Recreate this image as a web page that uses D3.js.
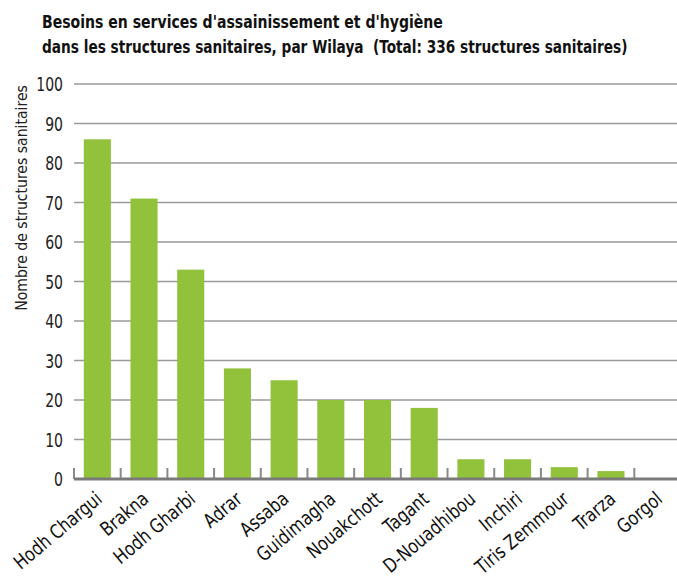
<!DOCTYPE html>
<html>
<head>
<meta charset="utf-8">
<script src="https://cdn.jsdelivr.net/npm/d3@7"></script>
<style>
  body { margin: 0; background: #fff; }
  svg { display: block; font-family: "Liberation Sans Narrow", "DejaVu Sans Condensed", "Roboto", sans-serif; }
</style>
</head>
<body>
<svg id="chart" width="677" height="583"></svg>
<script>
// Wilayas and number of health facilities needing water & sanitation services
const wilayas = ["Hodh Chargui", "Brakna", "Hodh Gharbi", "Adrar", "Assaba", "Guidimagha",
  "Nouakchott", "Tagant", "D-Nouadhibou", "Inchiri", "Tiris Zemmour", "Trarza", "Gorgol"];
const besoins = [86, 71, 53, 28, 25, 20, 20, 18, 5, 5, 3, 2, 0];
const yTicks = [0, 10, 20, 30, 40, 50, 60, 70, 80, 90, 100];
const titleLines = [
  "Besoins en services d'assainissement et d'hygiène",
  "dans les structures sanitaires, par Wilaya  (Total: 336 structures sanitaires)"
];
const titleWidths = [401, 586];
const yLabel = "Nombre de structures sanitaires";

const svg = d3.select("#chart");
const plot = { left: 74, right: 681, top: 84, bottom: 479 };

const x = d3.scaleBand().domain(wilayas).range([plot.left, plot.right]).paddingInner(0.42).paddingOuter(0.21);
const y = d3.scaleLinear().domain([0, 100]).range([plot.bottom, plot.top]);

// Squeeze a text horizontally so its natural width becomes `width`
function fitWidth(sel, width, base) {
  sel.each(function () {
    const w = this.getComputedTextLength();
    const sx = Math.min(1, width / w);
    d3.select(this).attr("transform", `${base} scale(${sx},1)`);
  });
}

// Title
svg.append("g").selectAll("text").data(titleLines).join("text")
  .attr("x", 0).attr("y", 0)
  .attr("font-size", 18).attr("font-weight", "bold").attr("fill", "#111")
  .style("white-space", "pre")
  .text(d => d)
  .each(function (d, i) {
    fitWidth(d3.select(this), titleWidths[i], `translate(42,${28 + i * 25})`);
  });

// Horizontal gridlines
svg.append("g").selectAll("line").data(yTicks.filter(t => t > 0)).join("line")
  .attr("x1", plot.left).attr("x2", 677)
  .attr("y1", d => y(d)).attr("y2", d => y(d))
  .attr("stroke", "#9a9a9a").attr("stroke-width", 1.5);

// Y tick labels
svg.append("g").selectAll("text").data(yTicks).join("text")
  .attr("transform", d => `translate(63,${y(d) + 7}) scale(0.8,1)`)
  .attr("text-anchor", "end").attr("font-size", 19.5).attr("fill", "#222")
  .text(d => d);

// Y axis title
svg.append("text")
  .attr("text-anchor", "middle").attr("font-size", 16.5).attr("fill", "#222")
  .text(yLabel)
  .call(fitWidth, 226, "translate(27,198) rotate(-90)");

// Bars
svg.append("g").selectAll("rect").data(besoins).join("rect")
  .attr("x", (d, i) => x(wilayas[i]))
  .attr("width", x.bandwidth())
  .attr("y", d => y(d))
  .attr("height", d => y(0) - y(d))
  .attr("fill", "#92c13c");

// Baseline with category separator ticks
const step = x.step();
const sepX = d3.range(wilayas.length).map(i => plot.left + i * step);
svg.append("g").selectAll("line").data(sepX).join("line")
  .attr("x1", d => d).attr("x2", d => d)
  .attr("y1", y(0) - 11).attr("y2", y(0))
  .attr("stroke", "#8a8a8a").attr("stroke-width", 2);
svg.append("line")
  .attr("x1", plot.left).attr("x2", 677)
  .attr("y1", y(0)).attr("y2", y(0))
  .attr("stroke", "#7a7a7a").attr("stroke-width", 3);

// Rotated category labels
svg.append("g").selectAll("text").data(wilayas).join("text")
  .attr("transform", d => `translate(${x(d) + x.bandwidth() / 2 + 6},${y(0) + 22}) rotate(-40) scale(0.9,1)`)
  .attr("text-anchor", "end").attr("font-size", 19.5).attr("fill", "#111")
  .text(d => d);
</script>
</body>
</html>
